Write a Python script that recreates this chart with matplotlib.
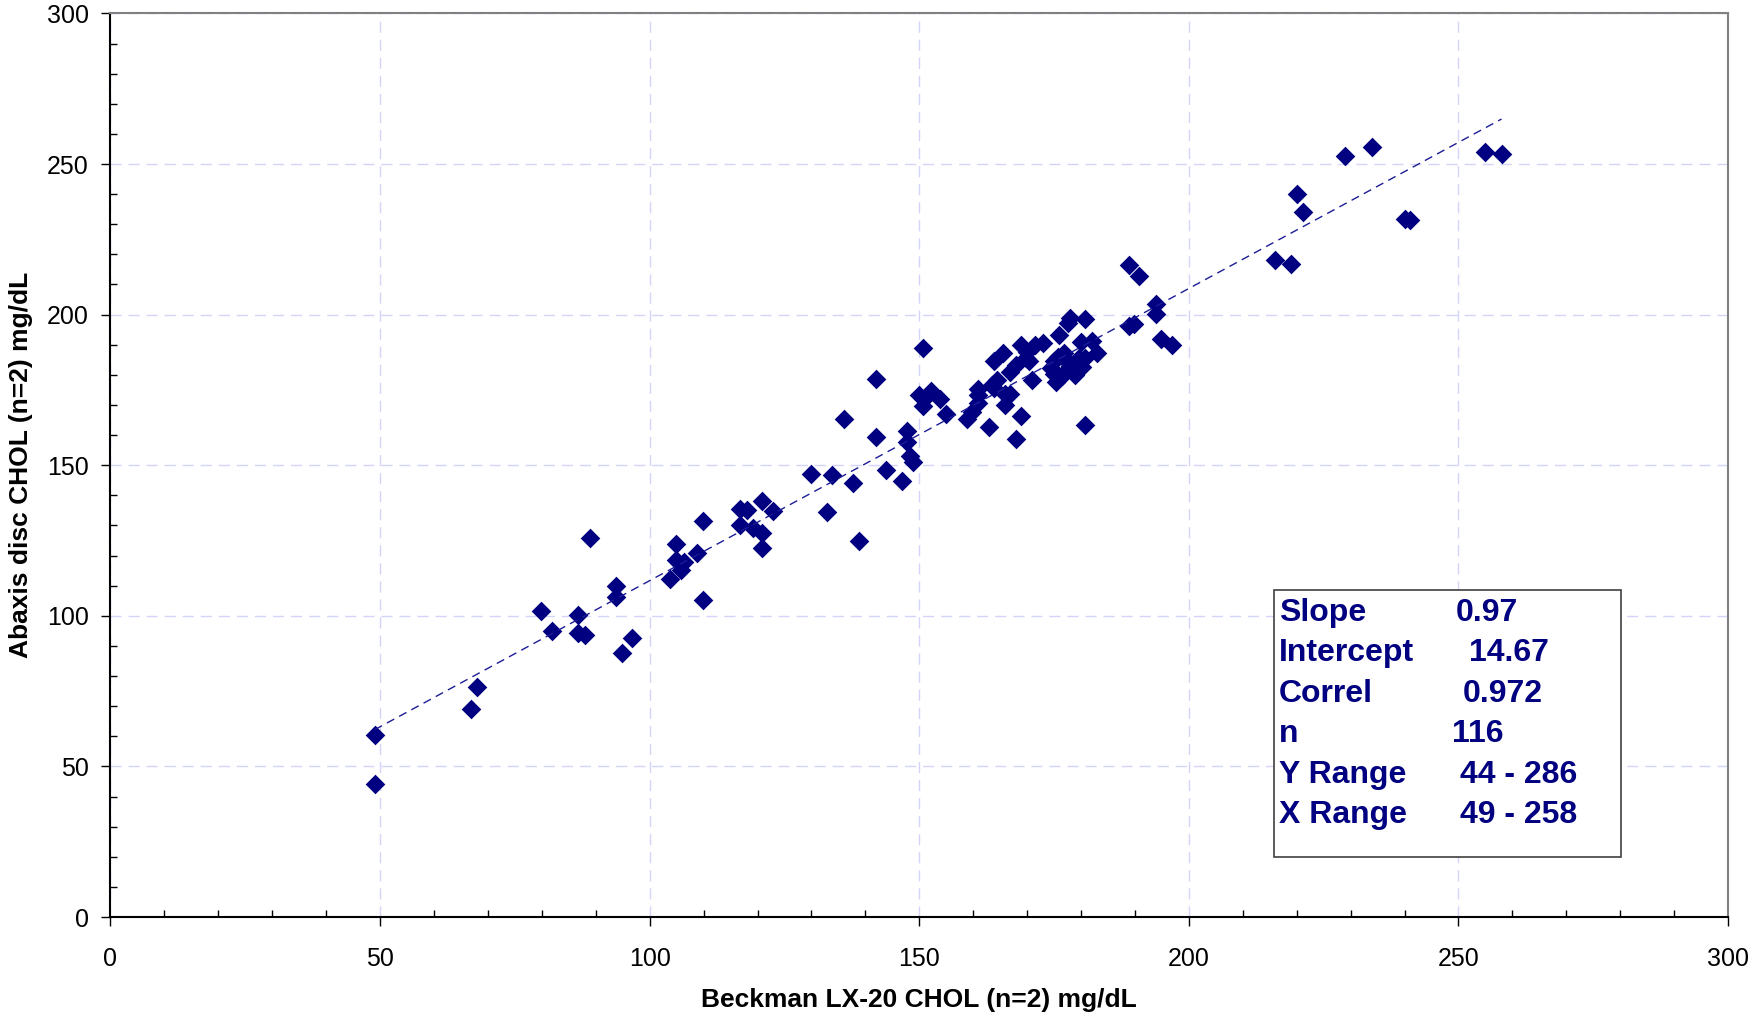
import matplotlib
matplotlib.use("Agg")
import matplotlib.pyplot as plt
from matplotlib.patches import Rectangle
from matplotlib.ticker import MultipleLocator

plt.rcParams['font.family'] = ['Liberation Sans', 'DejaVu Sans']

# Beckman LX-20 (x) vs Abaxis disc (y), mg/dL
beckman = [49, 49, 66.8, 67.9, 79.9, 81.8, 86.8, 86.8, 88, 88.9,
           93.8, 93.8, 94.9, 96.7, 103.8, 104.8, 104.8, 105.9, 106.3, 108.8,
           109.8, 109.8, 116.7, 116.7, 118.1, 119.2, 120.8, 120.8, 120.8, 122.9,
           130, 132.9, 133.9, 136, 137.8, 138.9, 142, 142, 143.9, 146.8,
           147.8, 147.8, 148.2, 148.8, 149.9, 150.7, 150.7, 151.8, 153.8, 154.9,
           158.8, 159.8, 160.9, 160.9, 160.9, 163, 163.8, 163.8, 164.4, 165.5,
           165.9, 165.9, 166.9, 167.9, 167.9, 168.8, 168.8, 169.8, 170.4, 170.9,
           171.5, 172.9, 174.4, 175, 175.4, 176, 176.5, 176.9, 177.5, 177.9,
           177.9, 178.9, 179.6, 180, 180.8, 180.8, 180.8, 182.1, 182.9, 188.9,
           188.9, 189.9, 190.8, 193.9, 193.9, 194.9, 196.8, 215.9, 219, 220,
           221.1, 229, 234, 240, 241, 254.9, 258,
           180.2, 174.9, 177.1, 166.9, 152.2, 163.5, 178.0, 175.8, 170.0]
abaxis = [60.5, 44.2, 69, 76.5, 101.7, 95, 100.3, 94.3, 93.6, 125.9,
          109.9, 106.2, 87.6, 92.5, 112.1, 123.7, 118.5, 115.1, 117.7, 120.7,
          131.5, 105.1, 135.5, 130.3, 135.2, 129.2, 138.1, 127.4, 122.5, 134.8,
          147, 134.4, 146.7, 165.2, 144.1, 124.8, 178.6, 159.3, 148.5, 144.8,
          161.5, 157.8, 153, 151.1, 173.4, 189, 169.7, 173.8, 171.9, 167.1,
          165.2, 167.5, 170.8, 175.3, 173.4, 162.6, 184.6, 175.6, 178.2, 187.1,
          173.8, 170.1, 180.8, 158.6, 183.4, 166.4, 189.8, 185.7, 184.6, 178.2,
          189.8, 190.5, 182.3, 184.6, 177.5, 193.1, 179.7, 187.1, 197.2, 199,
          183.1, 180.1, 185.7, 190.9, 198.7, 163.4, 185.7, 191.2, 187.1, 216.5,
          196.1, 196.8, 212.8, 203.5, 200.1, 192, 189.8, 218, 216.9, 239.9,
          233.9, 252.5, 255.5, 231.7, 231.3, 254, 253.2,
          182.6, 180.4, 181.0, 173.8, 174.5, 176.5, 183.5, 186.0, 187.5]

slope = 0.97
intercept = 14.67
x_range = (49, 258)

stat_labels = ["Slope", "Intercept", "Correl", "n", "Y Range", "X Range"]
stat_values = ["0.97", "14.67", "0.972", "116", "44 - 286", "49 - 258"]

W, H = 1754, 1021
fig = plt.figure(figsize=(W / 100, H / 100), dpi=100)
ax = fig.add_axes([110.5 / W, 1 - 917 / H, (1728 - 110.5) / W, (917 - 13.4) / H])

navy = "#000080"
ax.scatter(beckman, abaxis, marker="D", s=100, color=navy, linewidths=0, zorder=3)

fit_x = list(x_range)
fit_y = [slope * v + intercept for v in fit_x]
ax.plot(fit_x, fit_y, color="#1c1c96", lw=1.0, dashes=(6, 4), zorder=4)

ax.set_xlim(0, 300)
ax.set_ylim(0, 300)
ax.xaxis.set_major_locator(MultipleLocator(50))
ax.yaxis.set_major_locator(MultipleLocator(50))
ax.xaxis.set_minor_locator(MultipleLocator(10))
ax.yaxis.set_minor_locator(MultipleLocator(10))
ax.tick_params(which="major", direction="out", length=6.5, width=1, labelsize=18)
ax.tick_params(axis="x", which="major", pad=15)
ax.tick_params(axis="y", which="major", pad=9)
ax.tick_params(which="minor", direction="in", length=5, width=1)
ax.grid(True, which="major", color="#d4d4fa", lw=1, dashes=(8, 5))
ax.set_axisbelow(True)

for side in ["left", "bottom"]:
    ax.spines[side].set_color("black")
    ax.spines[side].set_linewidth(1.5)
for side in ["top", "right"]:
    ax.spines[side].set_color("#808080")
    ax.spines[side].set_linewidth(1.5)

ax.set_xlabel("Beckman LX-20 CHOL (n=2) mg/dL", fontsize=19, fontweight="bold", labelpad=12)
ax.set_ylabel("Abaxis disc CHOL (n=2) mg/dL", fontsize=19, fontweight="bold", labelpad=10)

# statistics box
fig.patches.append(Rectangle((1274 / W, 1 - 857 / H), (1621 - 1274) / W, (857 - 590) / H,
                             transform=fig.transFigure, facecolor="white",
                             edgecolor="#404040", lw=1.2, zorder=5))
val_x = [1456, 1469, 1463, 1452, 1460, 1460]
for i, (lab, val) in enumerate(zip(stat_labels, stat_values)):
    yy = 1 - (613 + i * 40.4) / H
    fig.text(1279 / W, yy, lab, fontsize=23, fontweight="bold", color=navy,
             va="center", ha="left", zorder=6)
    fig.text(val_x[i] / W, yy, val, fontsize=23, fontweight="bold", color=navy,
             va="center", ha="left", zorder=6)

fig.savefig("out.png", dpi=100)
